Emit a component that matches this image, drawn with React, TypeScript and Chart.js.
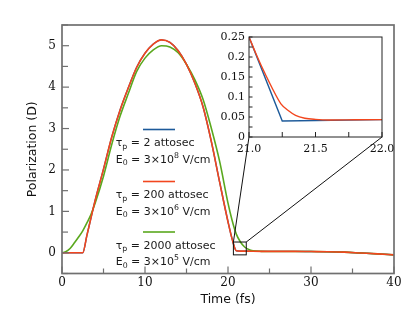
import React, { useEffect, useRef } from 'react';
import { Chart, registerables } from 'chart.js';

Chart.register(...registerables);

// ---------- data ----------
// Main plot: time (fs) and polarization (D)
const RED_T = [0, 1, 2, 2.5, 3, 3.5, 4, 5, 6, 7, 8, 9, 10, 11, 12, 13, 14, 15, 16, 17, 18, 19, 20, 20.5, 21, 21.5, 22, 24, 26, 28, 30, 32, 34, 36, 38, 40];
const RED_P = [0, 0, 0, 0, 0.42, 0.85, 1.27, 2.02, 2.8, 3.45, 3.99, 4.48, 4.82, 5.04, 5.14, 5.08, 4.88, 4.55, 4.1, 3.52, 2.68, 1.7, 0.75, 0.33, 0.05, 0.04, 0.04, 0.035, 0.035, 0.035, 0.03, 0.025, 0.015, -0.005, -0.025, -0.05];

const BLUE_T = [0, 1, 2, 2.5, 3, 3.5, 4, 5, 6, 7, 8, 9, 10, 11, 12, 13, 14, 15, 16, 17, 18, 19, 20, 20.5, 21, 21.5, 22, 24, 26, 28, 30, 32, 34, 36, 38, 40];
const BLUE_P = [0, 0, 0, 0, 0.42, 0.85, 1.27, 2.02, 2.8, 3.45, 3.99, 4.48, 4.82, 5.04, 5.14, 5.08, 4.88, 4.55, 4.1, 3.52, 2.68, 1.7, 0.75, 0.33, 0.05, 0.04, 0.04, 0.035, 0.035, 0.035, 0.03, 0.025, 0.015, -0.005, -0.025, -0.05];

const GREEN_T = [0, 0.5, 1, 1.5, 2, 2.5, 3, 3.5, 4, 5, 6, 7, 8, 9, 10, 11, 12, 13, 14, 15, 16, 17, 18, 19, 20, 20.5, 21, 21.5, 22, 22.5, 23, 24, 26, 28, 30, 32, 34, 36, 38, 40];
const GREEN_P = [0, 0.03, 0.11, 0.24, 0.38, 0.53, 0.72, 0.93, 1.2, 1.85, 2.62, 3.3, 3.85, 4.38, 4.7, 4.9, 5.0, 4.97, 4.83, 4.55, 4.18, 3.7, 3.0, 2.2, 1.2, 0.78, 0.45, 0.26, 0.14, 0.08, 0.05, 0.035, 0.03, 0.03, 0.03, 0.025, 0.015, -0.005, -0.025, -0.05];

// Inset (zoom of 21–22 fs)
const INSET_BLUE_T = [21.0, 21.25, 22.0];
const INSET_BLUE_P = [0.25, 0.04, 0.0435];
const INSET_RED_T = [21.0, 21.05, 21.09, 21.13, 21.17, 21.24, 21.3, 21.35, 21.42, 21.5, 21.6, 21.8, 22.0];
const INSET_RED_P = [0.25, 0.21, 0.18, 0.152, 0.125, 0.083, 0.065, 0.054, 0.047, 0.044, 0.0425, 0.043, 0.0435];

// Legend labels
const LEGEND_TAU = ['2', '200', '2000'];
const LEGEND_E_EXP = ['8', '6', '5'];
const LEGEND_E_MANT = ['3', '3', '3'];

// Axis ranges
const MAIN_X = [0, 40];
const MAIN_Y = [-0.5, 5.5];
const INSET_X = [21.0, 22.0];
const INSET_Y = [0, 0.25];
const ZOOM_BOX_X = [20.65, 22.2];
const ZOOM_BOX_Y = [-0.05, 0.26];

// ---------- styles / layout ----------
const BLUE = '#1d5a9a';
const RED = '#f2461e';
const GREEN = '#5aa81e';
const LEGEND_COLORS = [BLUE, RED, GREEN];
const SPINE = '#707070';
const W = 415;
const H = 311;
const INSET = { left: 249, top: 37, right: 382, bottom: 137 };
const INSET_CANVAS = { left: 195, top: 25, width: 205, height: 140 };
const SERIF = '"DejaVu Serif", serif';
const SANS = '"DejaVu Sans", sans-serif';

const zip = (t: number[], p: number[]) => t.map((v, i) => ({ x: v, y: p[i] }));

function drawRich(ctx: CanvasRenderingContext2D, x: number, y: number, parts: [string, number][]) {
  let cx = x;
  for (const [txt, kind] of parts) {
    const size = kind === 0 ? 11 : 7.8;
    ctx.font = `${size}px ${SANS}`;
    const dy = kind === -1 ? 3.2 : kind === 1 ? -4.2 : 0;
    ctx.fillText(txt, cx, y + dy);
    cx += ctx.measureText(txt).width;
  }
}

const mainDecor = {
  id: 'mainDecor',
  afterDraw(chart: any) {
    const { ctx, chartArea: a, scales } = chart;
    const x = scales.x;
    const y = scales.y;
    ctx.save();
    // ticks (inward)
    ctx.strokeStyle = SPINE;
    ctx.lineWidth = 1.2;
    x.ticks.forEach((t: any) => {
      const px = x.getPixelForValue(t.value);
      const major = Math.abs(t.value % 10) < 1e-6;
      ctx.beginPath();
      ctx.moveTo(px, a.bottom);
      ctx.lineTo(px, a.bottom - (major ? 7 : 5));
      ctx.stroke();
    });
    y.ticks.forEach((t: any) => {
      const py = y.getPixelForValue(t.value);
      const major = Math.abs(t.value - Math.round(t.value)) < 1e-6;
      ctx.beginPath();
      ctx.moveTo(a.left, py);
      ctx.lineTo(a.left + (major ? 7 : 6), py);
      ctx.stroke();
    });
    // frame
    ctx.lineWidth = 1.7;
    ctx.strokeRect(a.left, a.top, a.right - a.left, a.bottom - a.top);

    // zoom box + connectors
    const bx0 = x.getPixelForValue(ZOOM_BOX_X[0]);
    const bx1 = x.getPixelForValue(ZOOM_BOX_X[1]);
    const by0 = y.getPixelForValue(ZOOM_BOX_Y[0]);
    const by1 = y.getPixelForValue(ZOOM_BOX_Y[1]);
    ctx.strokeStyle = '#111';
    ctx.lineWidth = 1;
    ctx.strokeRect(bx0, by1, bx1 - bx0, by0 - by1);
    ctx.beginPath();
    ctx.moveTo(bx0, by1);
    ctx.lineTo(INSET.left, INSET.bottom);
    ctx.moveTo(bx1, by1);
    ctx.lineTo(INSET.right, INSET.bottom);
    ctx.stroke();

    // legend
    const lineX0 = 143;
    const lineX1 = 175;
    const textX = 115.7;
    const blockY = [129.5, 181.5, 232];
    ctx.textBaseline = 'middle';
    ctx.textAlign = 'left';
    LEGEND_TAU.forEach((tau, i) => {
      const ly = blockY[i];
      ctx.strokeStyle = LEGEND_COLORS[i];
      ctx.lineWidth = 1.6;
      ctx.beginPath();
      ctx.moveTo(lineX0, ly);
      ctx.lineTo(lineX1, ly);
      ctx.stroke();
      ctx.fillStyle = '#1a1a1a';
      drawRich(ctx, textX, ly + 14, [['τ', 0], ['p', -1], [` = ${tau} attosec`, 0]]);
      drawRich(ctx, textX, ly + 30.5, [['E', 0], ['0', -1], [` = ${LEGEND_E_MANT[i]}×10`, 0], [LEGEND_E_EXP[i], 1], [' V/cm', 0]]);
    });
    ctx.restore();
  },
};

const insetDecor = {
  id: 'insetDecor',
  beforeDraw(chart: any) {
    const { ctx, chartArea: a } = chart;
    ctx.save();
    ctx.fillStyle = '#ffffff';
    ctx.fillRect(a.left, a.top, a.right - a.left, a.bottom - a.top);
    ctx.restore();
  },
  afterDraw(chart: any) {
    const { ctx, chartArea: a, scales } = chart;
    const x = scales.x;
    const y = scales.y;
    ctx.save();
    ctx.strokeStyle = '#222';
    ctx.lineWidth = 1;
    x.ticks.forEach((t: any) => {
      const px = x.getPixelForValue(t.value);
      ctx.beginPath();
      ctx.moveTo(px, a.bottom);
      ctx.lineTo(px, a.bottom - 5);
      ctx.stroke();
    });
    y.ticks.forEach((t: any) => {
      const py = y.getPixelForValue(t.value);
      ctx.beginPath();
      ctx.moveTo(a.left, py);
      ctx.lineTo(a.left + 3.5, py);
      ctx.stroke();
    });
    ctx.strokeRect(a.left, a.top, a.right - a.left, a.bottom - a.top);
    ctx.restore();
  },
};

export default function App() {
  const mainRef = useRef<HTMLCanvasElement>(null);
  const insetRef = useRef<HTMLCanvasElement>(null);

  useEffect(() => {
    document.body.style.margin = '0';
    const main = new Chart(mainRef.current as HTMLCanvasElement, {
      type: 'line',
      data: {
        datasets: [
          { label: 'τp = 200 attosec', data: zip(RED_T, RED_P), borderColor: RED, borderWidth: 1.6, pointRadius: 0, cubicInterpolationMode: 'monotone' },
          { label: 'τp = 2000 attosec', data: zip(GREEN_T, GREEN_P), borderColor: GREEN, borderWidth: 1.6, pointRadius: 0, cubicInterpolationMode: 'monotone' },
          { label: 'τp = 2 attosec', data: zip(BLUE_T, BLUE_P), borderColor: BLUE, borderWidth: 1.4, pointRadius: 0, cubicInterpolationMode: 'monotone' },
        ],
      },
      options: {
        animation: false,
        responsive: false,
        devicePixelRatio: 1,
        layout: { padding: { left: 0, right: W - 394, top: 25, bottom: 0 } },
        plugins: { legend: { display: false }, tooltip: { enabled: false } },
        scales: {
          x: {
            type: 'linear',
            min: MAIN_X[0],
            max: MAIN_X[1],
            grid: { display: false, drawTicks: false },
            border: { display: false },
            afterFit: (s: any) => { s.height = H - 273.5; },
            ticks: {
              stepSize: 5,
              autoSkip: false,
              maxRotation: 0,
              padding: 2.5,
              color: '#111',
              font: { family: SERIF, size: 12 },
              callback: (v: any) => (Math.abs(Number(v) % 10) < 1e-6 ? String(v) : ''),
            },
            title: { display: true, text: 'Time (fs)', color: '#111', font: { family: SANS, size: 12.5 }, padding: { top: 0, bottom: 4 } },
          },
          y: {
            type: 'linear',
            min: MAIN_Y[0],
            max: MAIN_Y[1],
            grid: { display: false, drawTicks: false },
            border: { display: false },
            afterFit: (s: any) => { s.width = 62; },
            ticks: {
              stepSize: 0.5,
              autoSkip: false,
              padding: 6,
              color: '#111',
              font: { family: SERIF, size: 12 },
              callback: (v: any) => {
                const n = Number(v);
                return Math.abs(n - Math.round(n)) < 1e-6 && n > -0.1 ? String(Math.round(n)) : '';
              },
            },
            title: { display: true, text: 'Polarization (D)', color: '#111', font: { family: SANS, size: 12.5 }, padding: { top: 25.5, bottom: 0 } },
          },
        },
      } as any,
      plugins: [mainDecor],
    });

    const inset = new Chart(insetRef.current as HTMLCanvasElement, {
      type: 'line',
      data: {
        datasets: [
          { label: 'τp = 200 attosec', data: zip(INSET_RED_T, INSET_RED_P), borderColor: RED, borderWidth: 1.4, pointRadius: 0, cubicInterpolationMode: 'monotone' },
          { label: 'τp = 2 attosec', data: zip(INSET_BLUE_T, INSET_BLUE_P), borderColor: BLUE, borderWidth: 1.4, pointRadius: 0, tension: 0 },
        ],
      },
      options: {
        animation: false,
        responsive: false,
        devicePixelRatio: 1,
        layout: {
          padding: {
            left: 0,
            top: INSET.top - INSET_CANVAS.top,
            right: INSET_CANVAS.left + INSET_CANVAS.width - INSET.right,
            bottom: 0,
          },
        },
        plugins: { legend: { display: false }, tooltip: { enabled: false } },
        scales: {
          x: {
            type: 'linear',
            min: INSET_X[0],
            max: INSET_X[1],
            grid: { display: false, drawTicks: false },
            border: { display: false },
            afterFit: (s: any) => { s.height = INSET_CANVAS.top + INSET_CANVAS.height - INSET.bottom; },
            ticks: {
              stepSize: 0.25,
              autoSkip: false,
              maxRotation: 0,
              padding: 5.5,
              color: '#111',
              font: { family: SERIF, size: 11 },
              callback: (v: any) => {
                const n = Number(v);
                return Math.abs(n * 2 - Math.round(n * 2)) < 1e-6 ? n.toFixed(1) : '';
              },
            },
          },
          y: {
            type: 'linear',
            min: INSET_Y[0],
            max: INSET_Y[1],
            grid: { display: false, drawTicks: false },
            border: { display: false },
            afterFit: (s: any) => { s.width = INSET.left - INSET_CANVAS.left; },
            ticks: {
              stepSize: 0.025,
              autoSkip: false,
              padding: 4,
              color: '#111',
              font: { family: SERIF, size: 11 },
              callback: (v: any) => {
                const k = Math.round(Number(v) * 1000);
                return k % 50 === 0 ? String(parseFloat((k / 1000).toFixed(3))) : '';
              },
            },
          },
        },
      } as any,
      plugins: [insetDecor],
    });

    return () => {
      main.destroy();
      inset.destroy();
    };
  }, []);

  return (
    <div style={{ position: 'relative', width: W, height: H, background: '#fff' }}>
      <canvas ref={mainRef} width={W} height={H} style={{ position: 'absolute', left: 0, top: 0 }} />
      <canvas
        ref={insetRef}
        width={INSET_CANVAS.width}
        height={INSET_CANVAS.height}
        style={{ position: 'absolute', left: INSET_CANVAS.left, top: INSET_CANVAS.top }}
      />
    </div>
  );
}
